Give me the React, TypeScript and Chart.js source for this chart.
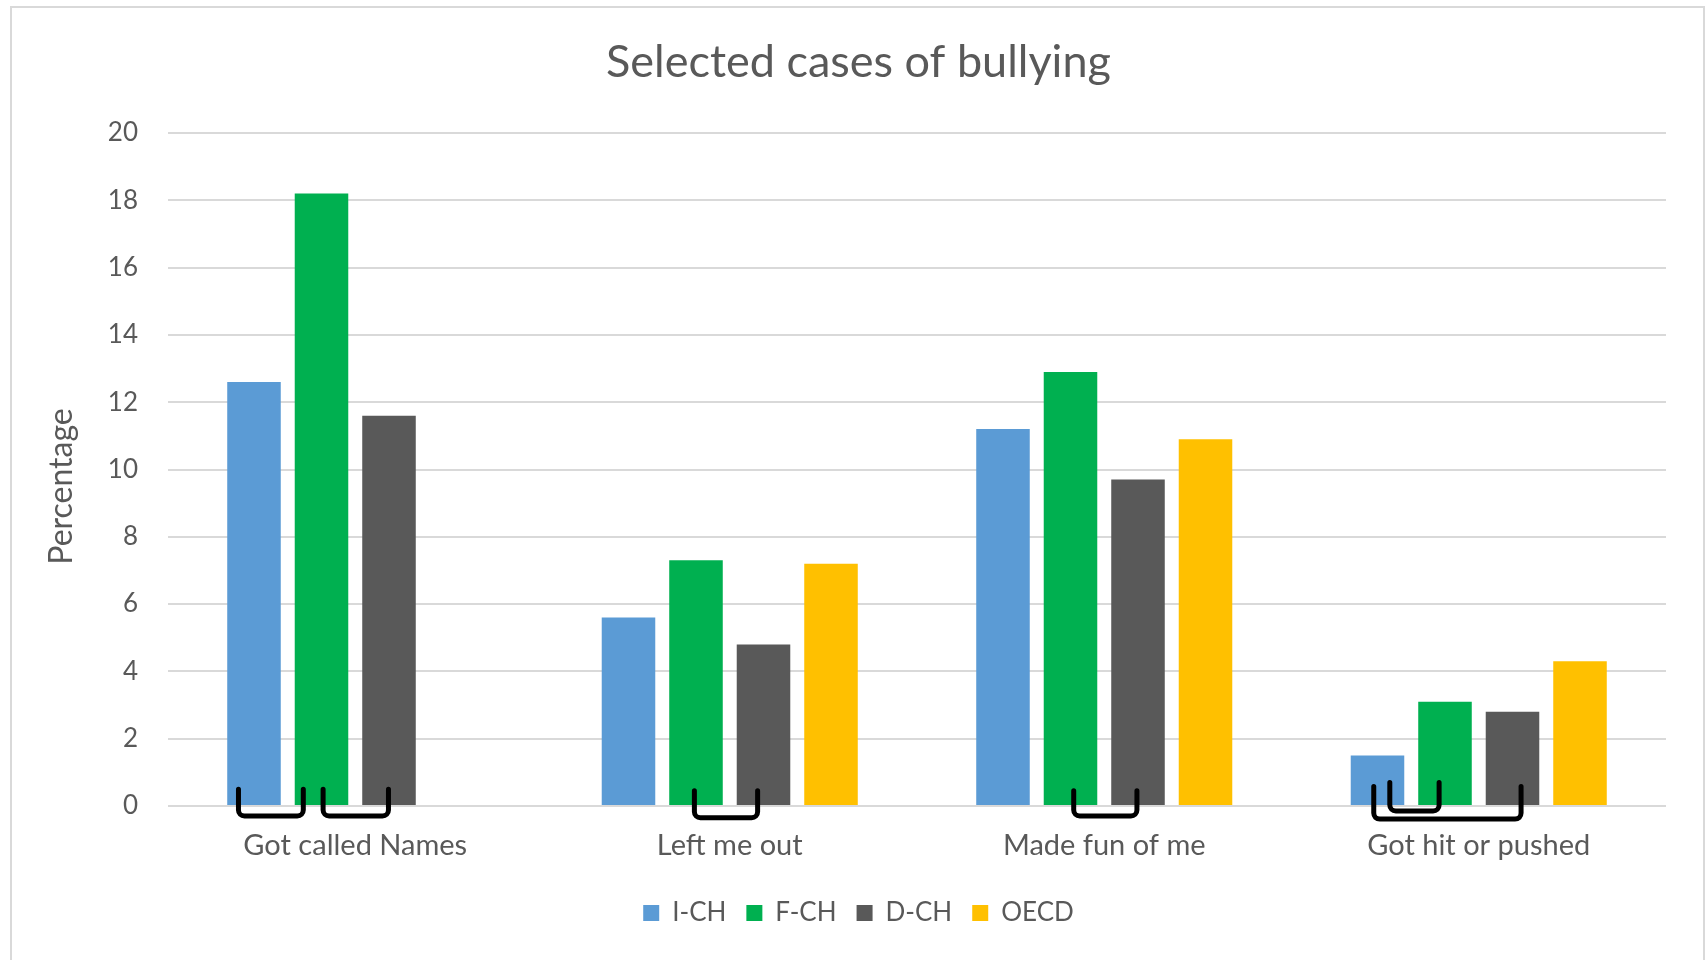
import React, { useEffect, useRef } from "react";
import { Chart, registerables } from "chart.js";

Chart.register(...registerables);

// ---------- data ----------
const categories = ["Got called Names", "Left me out", "Made fun of me", "Got hit or pushed"];
const seriesNames = ["I-CH", "F-CH", "D-CH", "OECD"];
const valuesICH = [12.6, 5.6, 11.2, 1.5];
const valuesFCH = [18.2, 7.3, 12.9, 3.1];
const valuesDCH = [11.6, 4.8, 9.7, 2.8];
const valuesOECD = [null, 7.2, 10.9, 4.3];
const yMin = 0;
const yMax = 20;
const yStep = 2;
const chartTitle = "Selected cases of bullying";
const yAxisTitle = "Percentage";

// significance brackets: category index, from series index, to series index
const bracketCategory = [0, 0, 1, 2, 3, 3];
const bracketFrom = [0, 1, 1, 1, 0, 0];
const bracketTo = [1, 2, 2, 2, 2, 1];

// ---------- styles ----------
const seriesColors = ["#5B9BD5", "#00B050", "#595959", "#FFC000"];
const textColor = "#595959";
const gridColor = "#D9D9D9";
const fontFamily = "Lato, 'Open Sans', sans-serif";
// hand-drawn bracket shape: x offsets in bar widths, top/bottom in value units
const bracketShapes = [
  { dx0: -0.29, dx1: -0.34, top: 0.5, bottom: -0.3 },
  { dx0: 0.03, dx1: -0.01, top: 0.5, bottom: -0.3 },
  { dx0: -0.03, dx1: -0.11, top: 0.45, bottom: -0.35 },
  { dx0: 0.06, dx1: -0.02, top: 0.45, bottom: -0.3 },
  { dx0: -0.07, dx1: 0.16, top: 0.58, bottom: -0.39 },
  { dx0: 0.23, dx1: -0.11, top: 0.7, bottom: -0.15 },
];

const framePlugin = {
  id: "frame",
  beforeDraw(chart: any) {
    const { ctx, width, height } = chart;
    ctx.save();
    ctx.fillStyle = "#FFFFFF";
    ctx.fillRect(0, 0, width, height);
    ctx.strokeStyle = gridColor;
    ctx.lineWidth = 2;
    ctx.strokeRect(11, 7, width - 12, height + 20);
    ctx.restore();
  },
};

const yTitlePlugin = {
  id: "yTitle",
  afterDraw(chart: any) {
    const { ctx, chartArea } = chart;
    ctx.save();
    ctx.translate(62, (chartArea.top + chartArea.bottom) / 2 + 17);
    ctx.rotate(-Math.PI / 2);
    ctx.fillStyle = textColor;
    ctx.font = `32px ${fontFamily}`;
    ctx.textAlign = "center";
    ctx.textBaseline = "middle";
    ctx.fillText(yAxisTitle, 0, 0);
    ctx.restore();
  },
};

const bracketPlugin = {
  id: "brackets",
  afterDatasetsDraw(chart: any) {
    const { ctx } = chart;
    const yScale = chart.scales.y;
    ctx.save();
    ctx.strokeStyle = "#000000";
    ctx.lineWidth = 5;
    ctx.lineJoin = "round";
    ctx.lineCap = "round";
    bracketCategory.forEach((cat, i) => {
      const s = bracketShapes[i];
      const e0 = chart.getDatasetMeta(bracketFrom[i]).data[cat];
      const e1 = chart.getDatasetMeta(bracketTo[i]).data[cat];
      if (!e0 || !e1) return;
      const x0 = e0.x + s.dx0 * e0.width;
      const x1 = e1.x + s.dx1 * e1.width;
      const yTop = yScale.getPixelForValue(s.top);
      const yBot = yScale.getPixelForValue(s.bottom);
      const r = 6;
      ctx.beginPath();
      ctx.moveTo(x0, yTop);
      ctx.arcTo(x0, yBot, x1, yBot, r);
      ctx.arcTo(x1, yBot, x1, yTop, r);
      ctx.lineTo(x1, yTop);
      ctx.stroke();
    });
    ctx.restore();
  },
};

export default function App() {
  const canvasRef = useRef<HTMLCanvasElement | null>(null);

  useEffect(() => {
    if (!canvasRef.current) return;
    const seriesValues = [valuesICH, valuesFCH, valuesDCH, valuesOECD];
    const chart = new Chart(canvasRef.current, {
      type: "bar",
      data: {
        labels: categories,
        datasets: seriesNames.map((name, i) => ({
          label: name,
          data: seriesValues[i],
          backgroundColor: seriesColors[i],
          borderWidth: 0,
          categoryPercentage: 0.721,
          barPercentage: 0.793,
          yAxisID: "y",
        })),
      },
      options: {
        responsive: false,
        animation: false,
        layout: { padding: { left: 12, right: 0, top: 0, bottom: 24 } },
        plugins: {
          title: {
            display: true,
            text: chartTitle,
            color: textColor,
            font: { family: fontFamily, size: 45, weight: "normal" },
            padding: { top: 35, bottom: 44 },
          },
          legend: {
            position: "bottom",
            labels: {
              boxWidth: 16,
              boxHeight: 16,
              padding: 20,
              color: textColor,
              font: { family: fontFamily, size: 26 },
            },
          },
          tooltip: { enabled: false },
        },
        scales: {
          x: {
            grid: { display: false, drawTicks: false },
            border: { display: false },
            ticks: {
              color: textColor,
              font: { family: fontFamily, size: 29 },
              padding: 22,
            },
            afterFit(scale: any) {
              scale.height = 74;
            },
          },
          y: {
            position: "left",
            min: yMin,
            max: yMax,
            grid: { color: gridColor, lineWidth: 2, drawTicks: false },
            border: { display: false },
            ticks: {
              stepSize: yStep,
              color: textColor,
              font: { family: fontFamily, size: 26 },
              padding: 30,
            },
            afterFit(scale: any) {
              scale.width = 156;
            },
          },
          yRight: {
            position: "right",
            grid: { display: false, drawTicks: false },
            border: { display: false },
            ticks: { display: false },
            afterFit(scale: any) {
              scale.width = 39;
            },
          },
        },
      },
      plugins: [framePlugin, bracketPlugin, yTitlePlugin],
    });
    return () => chart.destroy();
  }, []);

  return (
    <div style={{ position: "fixed", left: 0, top: 0, width: 1705, height: 960, background: "#fff" }}>
      <canvas ref={canvasRef} width={1705} height={960} style={{ display: "block" }} />
    </div>
  );
}
